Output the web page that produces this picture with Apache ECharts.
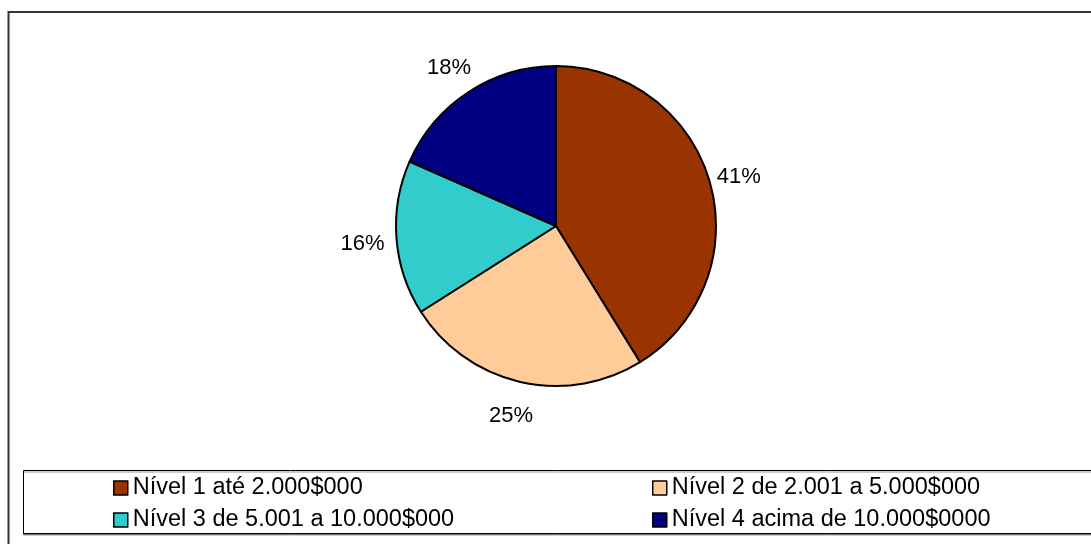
<!DOCTYPE html>
<html>
<head>
<meta charset="utf-8">
<script src="https://cdn.jsdelivr.net/npm/echarts@6/dist/echarts.min.js"></script>
<style>
  html, body { margin: 0; padding: 0; background: #fff; }
  #chart { width: 1091px; height: 544px; }
</style>
</head>
<body>
<div id="chart"></div>
<script>
// 数据
const categories = [
    'Nível 1 até 2.000$000',
    'Nível 2 de 2.001 a 5.000$000',
    'Nível 3 de 5.001 a 10.000$000',
    'Nível 4 acima de 10.000$0000'
];
const values = [41.2, 24.8, 15.6, 18.4];
const colors = ['#993300', '#FFCC99', '#33CCCC', '#000080'];

const CX = 556, CY = 226, R = 160;
const LABEL_R = 192;
const font = 'Liberation Sans, Arial, sans-serif';
const total = values.reduce((a, b) => a + b, 0);

// 标签放在扇区中线方向上
function midAngle(idx) {
    let before = 0;
    for (let i = 0; i < idx; i++) before += values[i];
    return (before + values[idx] / 2) / total * Math.PI * 2;
}

const chart = echarts.init(document.getElementById('chart'));

const legendBase = {
    orient: 'vertical',
    top: 476,
    padding: 0,
    itemGap: 8,
    itemWidth: 14, itemHeight: 14,
    icon: 'rect',
    itemStyle: { borderColor: '#000', borderWidth: 1.5 },
    textStyle: { fontFamily: font, fontSize: 23.5, color: '#000' }
};

chart.setOption({
    animation: false,
    color: colors,
    graphic: [
        // 外框
        {
            type: 'rect', silent: true,
            shape: { x: 8.5, y: 12, width: 1200, height: 700 },
            style: { fill: 'none', stroke: '#333', lineWidth: 2 }
        },
        // 图例框
        {
            type: 'rect', silent: true, z: -1,
            shape: { x: 23.5, y: 470.5, width: 1200, height: 63 },
            style: { fill: '#fff', stroke: '#000', lineWidth: 1, shadowColor: 'rgba(0,0,0,0.4)', shadowOffsetY: 1.5 }
        }
    ],
    legend: [
        Object.assign({ data: [categories[0], categories[2]], left: 113 }, legendBase),
        Object.assign({ data: [categories[1], categories[3]], left: 652 }, legendBase)
    ],
    series: [{
        type: 'pie',
        center: [CX, CY],
        radius: [0, R],
        startAngle: 90,
        clockwise: true,
        itemStyle: { borderColor: '#000', borderWidth: 2 },
        label: {
            show: true,
            position: 'outside',
            formatter: p => Math.round(p.value) + '%',
            fontFamily: font,
            fontSize: 22,
            color: '#000'
        },
        labelLine: { show: false },
        labelLayout: p => {
            const a = midAngle(p.dataIndex);
            return {
                x: CX + Math.sin(a) * LABEL_R - 2,
                y: CY - Math.cos(a) * LABEL_R + 3,
                align: 'center',
                verticalAlign: 'middle'
            };
        },
        emphasis: { disabled: true },
        data: categories.map((name, i) => ({ name, value: values[i] }))
    }]
});
</script>
</body>
</html>
